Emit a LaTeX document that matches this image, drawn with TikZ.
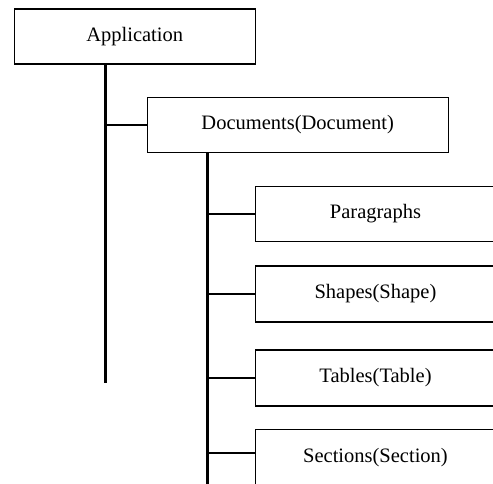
\documentclass[tikz,border=0pt]{standalone}
\usepackage{fontspec}
\setmainfont{Liberation Serif}
\begin{document}
\begin{tikzpicture}[x=1pt,y=-1pt,
  box/.style={draw=black,line width=1.1pt,inner sep=0pt,font=\fontsize{20.5}{24}\selectfont},
  trunk/.style={line width=3pt},
  branch/.style={line width=2.4pt}]
\clip (0,0) rectangle (493,484);
\useasboundingbox (0,0) rectangle (493,484);
\node[box,minimum width=241pt,minimum height=55pt] (app) at (134.7,36.5) {Application};
\node[box,minimum width=301pt,minimum height=55.4pt] (doc) at (297.7,125) {Documents(Document)};
\node[box,minimum width=240pt,minimum height=55.7pt] (par) at (375.5,214) {Paragraphs};
\node[box,minimum width=240pt,minimum height=56pt] (shp) at (375.5,294) {Shapes(Shape)};
\node[box,minimum width=240pt,minimum height=56pt] (tab) at (375.5,378) {Tables(Table)};
\node[box,minimum width=240pt,minimum height=56pt] (sec) at (375.5,457.3) {Sections(Section)};
\coordinate (aend) at (105,383);
\coordinate (dend) at (207,490);
\coordinate (j4) at (207,453);
\draw[trunk] (app.south -| aend) -- (aend);
\draw[branch] (aend |- doc.west) -- (doc.west);
\draw[trunk] (doc.south -| dend) -- (dend);
\draw[branch] (dend |- par.west) -- (par.west);
\draw[branch] (dend |- shp.west) -- (shp.west);
\draw[branch] (dend |- tab.west) -- (tab.west);
\draw[branch] (j4) -- (j4 -| sec.west);
\end{tikzpicture}
\end{document}
